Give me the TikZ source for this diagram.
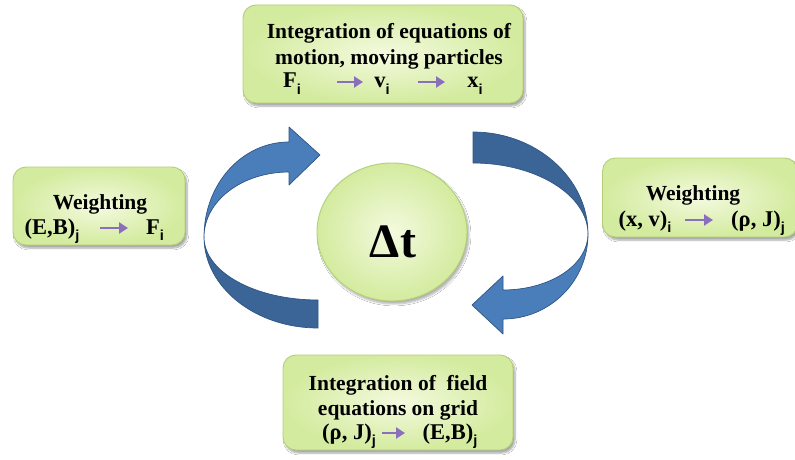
\documentclass[tikz,border=0pt]{standalone}
\usepackage{fontspec}
\setmainfont{Liberation Serif}
\newfontfamily\subf{Liberation Sans}
\usetikzlibrary{shadows.blur, arrows.meta, shapes.geometric}
\definecolor{boxin}{HTML}{F4FADF}
\definecolor{boxout}{HTML}{D3EB9E}
\definecolor{boxline}{HTML}{B3CF78}
\definecolor{bluedark}{HTML}{3B6597}
\definecolor{bluelight}{HTML}{4A7EBB}
\definecolor{blueline}{HTML}{2F5584}
\definecolor{parrc}{HTML}{8A70BC}
\newcommand\sbx[1]{\raisebox{-0.28em}{\subf\bfseries\fontsize{14.5}{14.5}\selectfont #1}}
\begin{document}
\begin{tikzpicture}[x=1pt,y=-1pt,
 gbox/.style={draw=boxline, line width=0.9pt, rounded corners=13pt, inner color=boxin, outer color=boxout,
   blur shadow={shadow xshift=2pt, shadow yshift=-3pt, shadow opacity=35, shadow blur steps=6}},
 gcirc/.style={ellipse, draw=boxline, line width=0.9pt, inner color=boxin, outer color=boxout,
   blur shadow={shadow xshift=2pt, shadow yshift=-3pt, shadow opacity=30, shadow blur steps=6}},
 txt/.style={font=\bfseries\fontsize{21.5}{25}\selectfont, inner sep=0pt, anchor=base},
 ftxt/.style={font=\bfseries\fontsize{22.5}{25}\selectfont, inner sep=0pt, anchor=base},
 parr/.style={draw=parrc, line width=2.8pt, -{Triangle[length=9pt,width=11pt]}},
 bandlight/.style={fill=bluelight, draw=blueline, line width=0.7pt, line join=round},
 banddark/.style={fill=bluedark, draw=blueline, line width=0.7pt, line join=round}]
\fill[white] (0,0) rectangle (795,460);
\useasboundingbox (0,0) rectangle (795,460);

% curved arrows
\path[banddark] (204,237) .. controls (204,287) and (255,328) .. (318,328) -- (318,300)
   .. controls (255,300) and (204,272) .. cycle;
\path[bandlight] (204,237) .. controls (204,184) and (242,142) .. (289,142) -- (289,127) -- (320,155)
   -- (289,185) -- (289,172) .. controls (242,172) and (204,201) .. cycle;
\path[banddark] (473,132) .. controls (536,132) and (588,178) .. (588,234)
   .. controls (588,195) and (536,163) .. (473,163) -- cycle;
\path[bandlight] (588,234) .. controls (588,281) and (550,319) .. (503,319) -- (503,334) -- (472,305)
   -- (503,276) -- (503,290) .. controls (550,290) and (588,265) .. cycle;

% boxes
\node[gbox, minimum width=280pt, minimum height=98pt] (top) at (383,54) {};
\node[gbox, minimum width=172pt, minimum height=78pt] (left) at (99,206) {};
\node[gbox, minimum width=195pt, minimum height=79pt] (right) at (700,197.5) {};
\node[gbox, minimum width=230pt, minimum height=95pt] (bottom) at (398,402.5) {};
\node[gcirc, minimum width=150pt, minimum height=138pt] (clock) at (392,232) {};

% centre
\node[font=\bfseries\fontsize{48}{48}\selectfont, anchor=base, inner sep=0pt] (dt) at (393,257) {Δt};

% top box text
\node[txt] (t1) at (389,39) {Integration of equations of};
\node[txt] (t2) at (389,64) {motion, moving particles};
\node[ftxt] (Fi) at (292,88) {F\sbx{i}};
\node[ftxt] (vi) at (382,88) {v\sbx{i}};
\node[ftxt] (xi) at (475,88) {x\sbx{i}};
\draw[parr] ([shift={(45,-6)}]Fi.base) -- ([shift={(-19,-6)}]vi.base);
\draw[parr] ([shift={(36,-6)}]vi.base) -- ([shift={(-30,-6)}]xi.base);

% left box text
\node[txt] (lw) at (100,209) {Weighting};
\node[ftxt] (lEB) at (52,234) {(E,B)\sbx{j}};
\node[ftxt] (lF) at (155,234) {F\sbx{i}};
\draw[parr] ([shift={(48,-6)}]lEB.base) -- ([shift={(-27,-6)}]lF.base);

% right box text
\node[txt] (rw) at (693,200) {Weighting};
\node[ftxt] (rxv) at (645,226) {(x, v)\sbx{i}};
\node[ftxt] (rrj) at (758,226) {(ρ, J)\sbx{j}};
\draw[parr] ([shift={(40,-6)}]rxv.base) -- ([shift={(-45,-6)}]rrj.base);

% bottom box text
\node[txt] (b1) at (398,390) {Integration of\ \ field};
\node[txt] (b2) at (398,415) {equations on grid};
\node[ftxt] (brj) at (349,439) {(ρ, J)\sbx{j}};
\node[ftxt] (bEB) at (450,439) {(E,B)\sbx{j}};
\draw[parr] ([shift={(33,-6)}]brj.base) -- ([shift={(-45,-6)}]bEB.base);
\end{tikzpicture}
\end{document}
